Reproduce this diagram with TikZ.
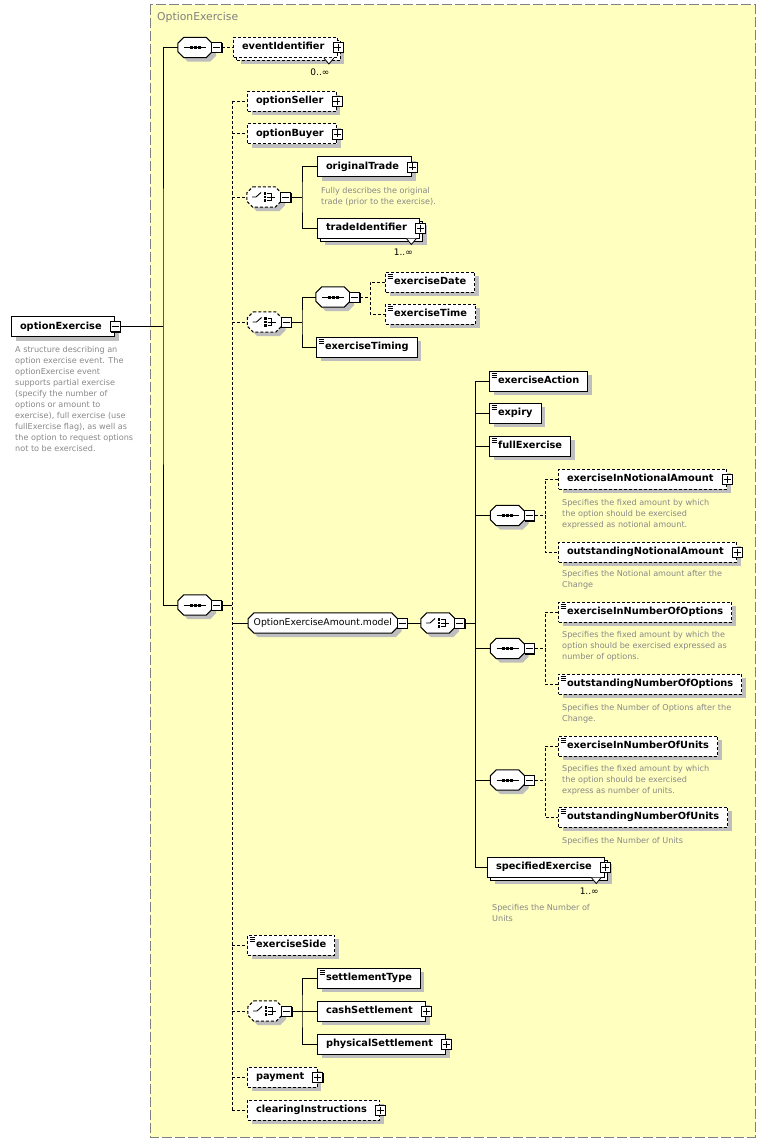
\documentclass[tikz,border=0pt]{standalone}
\usepackage{fontspec}
\setmainfont{DejaVu Sans}
\usetikzlibrary{shadows}

\definecolor{bgyellow}{RGB}{255,255,192}
\definecolor{framegray}{RGB}{128,128,128}
\definecolor{shadowgray}{RGB}{190,190,190}
\definecolor{descgray}{RGB}{136,136,136}

\newcommand\elemfont{\fontsize{9.8pt}{11pt}\selectfont\bfseries}
\newcommand\descfont{\fontsize{8.1pt}{11pt}\selectfont}
\newcommand\modelfont{\fontsize{9.3pt}{11pt}\selectfont}
\newcommand\multfont{\fontsize{9pt}{10pt}\selectfont}
\newcommand\titlefont{\fontsize{10.8pt}{12pt}\selectfont}

% compositor outline, glyphs
\newcommand\compframe[2]{%
  \fill[shadowgray, transform canvas={shift={(4pt,-4pt)}}, octagon=#1];
  \draw[line width=1pt, fill=white, #2, octagon=#1];}
\newcommand\seqglyph[1]{%
  \draw[line width=1pt] ([xshift=-11pt]#1.center) -- ([xshift=11pt]#1.center);
  \foreach \d in {-4,0,4} \fill ([shift={(\d-1.5,-1.5)}]#1.center) rectangle ++(3,3);}
\newcommand\choiceglyph[1]{%
  \begin{scope}[shift={(#1.center)}, line width=.9pt]
    \draw (-12,0) -- (-8,0) -- (-3,-4.5);
    \foreach \d in {-3.5,0,3.5} \fill (-0.5,\d-1.2) rectangle ++(2.6,2.4);
    \draw (3,-3.5) -- (7,-3.5) -- (7,3.5) -- (3,3.5) (3,0) -- (11,0);
  \end{scope}}

\tikzset{
  conn/.style={line width=1pt},
  optline/.style={dash pattern=on 3pt off 2pt},
  octagon/.style={insert path={([xshift=6pt]#1.north west) -- ([xshift=-6pt]#1.north east)
    -- ([yshift=-6pt]#1.north east) -- ([yshift=6pt]#1.south east) -- ([xshift=-6pt]#1.south east)
    -- ([xshift=6pt]#1.south west) -- ([yshift=6pt]#1.south west) -- ([yshift=-6pt]#1.north west) -- cycle}},
  boxshadow/.style={drop shadow={shadow xshift=4pt, shadow yshift=-4pt, fill=shadowgray, opacity=1}},
  elembase/.style={draw, line width=1pt, fill=white, anchor=west, font=\elemfont,
    inner xsep=8.5pt, inner ysep=0pt, minimum height=20pt, text height=7.5pt, text depth=2.5pt},
  elem/.style={elembase, boxshadow},
  elemmulti/.style={elembase,
    drop shadow={shadow xshift=7pt, shadow yshift=-7pt, fill=shadowgray, opacity=1},
    copy shadow={shadow xshift=3pt, shadow yshift=-3pt}},
  withtoggle/.style={execute at end node={\hspace*{4.5pt}}},
  simpletype/.style={path picture={\foreach \k in {2,4,6}
    \draw[solid, black, line width=.7pt] ([shift={(2,\k)}]path picture bounding box.north west) -- ++(5,0);}},
  togglebox/.style={draw, line width=.8pt, fill=white, minimum size=10pt, inner sep=0pt,
    drop shadow={shadow xshift=1pt, shadow yshift=-1pt, fill=black, opacity=1}},
  plusbox/.style={togglebox, path picture={\draw[line width=.8pt]
    ([xshift=-3.5pt]path picture bounding box.center) -- ([xshift=3.5pt]path picture bounding box.center)
    ([yshift=-3.5pt]path picture bounding box.center) -- ([yshift=3.5pt]path picture bounding box.center);}},
  minusbox/.style={togglebox, path picture={\draw[line width=.8pt]
    ([xshift=-3.5pt]path picture bounding box.center) -- ([xshift=3.5pt]path picture bounding box.center);}},
  comp/.style={minimum width=34pt, minimum height=20pt, inner sep=0pt},
  seqbox/.style={comp, append after command={\pgfextra{\compframe{\tikzlastnode}{#1}\seqglyph{\tikzlastnode}}}},
  seqbox/.default=solid,
  choicebox/.style={comp, append after command={\pgfextra{\compframe{\tikzlastnode}{#1}\choiceglyph{\tikzlastnode}}}},
  choicebox/.default=solid,
  modelgrp/.style={anchor=west, font=\modelfont, inner xsep=5.5pt, inner ysep=0pt, minimum height=20pt,
    text height=7pt, text depth=2.5pt, append after command={\pgfextra{\compframe{\tikzlastnode}{solid}}}},
  desc/.style={anchor=north west, inner sep=0pt, align=left, font=\descfont, text=descgray},
  mult/.style={inner sep=0pt, font=\multfont},
  notch/.style={line width=.8pt, fill=white},
  frame/.style={draw=framegray, line width=1pt, dash pattern=on 10pt off 3pt, fill=bgyellow},
}

\begin{document}
\begin{tikzpicture}[x=1pt, y=-1pt]
\useasboundingbox (0,0) rectangle (765,1142);
\draw[frame] (150,5) rectangle (755,1137);
\node[anchor=west, inner sep=0pt, font=\titlefont, text=framegray] (title) at (157,18) {OptionExercise};

% root element
\node[elem, withtoggle] (root) at (11,326.5) {optionExercise};
\node[minusbox] (rootm) at (root.east) {};
\node[desc] (rootdesc) at (15,346) {A structure describing an\\option exercise event. The\\optionExercise event\\supports partial exercise\\(specify the number of\\options or amount to\\exercise), full exercise (use\\fullExercise flag), as well as\\the option to request options\\not to be exercised.};

% outer sequences
\node[seqbox] (seq1) at (195,47.5) {};
\node[minusbox, anchor=west] (seq1m) at ([xshift=-1pt]seq1.east) {};
\node[seqbox] (seq2) at (195,605) {};
\node[minusbox, anchor=west] (seq2m) at ([xshift=-1pt]seq2.east) {};

\node[elemmulti, optline, withtoggle] (evid) at (233,47.5) {eventIdentifier};
\node[plusbox] (evidp) at (evid.east) {};
\draw[notch] ([xshift=-14pt]evid.south east) -- ++(5,6) -- ++(5,-6);
\node[mult] (evidmult) at ([shift={(-18,14)}]evid.south east) {0..∞};

\node[elem, optline, withtoggle] (seller) at (247,101.5) {optionSeller};
\node[plusbox] (sellerp) at (seller.east) {};
\node[elem, optline, withtoggle] (buyer) at (247,134) {optionBuyer};
\node[plusbox] (buyerp) at (buyer.east) {};

% choice: trade
\node[choicebox=optline] (ch1) at (264,197) {};
\node[minusbox, anchor=west] (ch1m) at ([xshift=-1pt]ch1.east) {};
\node[elem, withtoggle] (origtrade) at (317,167) {originalTrade};
\node[plusbox] (origtradep) at (origtrade.east) {};
\node[desc] (origdesc) at (321,187) {Fully describes the original\\trade (prior to the exercise).};
\node[elemmulti, withtoggle] (tradeid) at (317,228) {tradeIdentifier};
\node[plusbox] (tradeidp) at (tradeid.east) {};
\draw[notch] ([xshift=-14pt]tradeid.south east) -- ++(5,6) -- ++(5,-6);
\node[mult] (tradeidmult) at ([shift={(-17,14)}]tradeid.south east) {1..∞};

% choice: date and timing
\node[choicebox=optline] (ch2) at (264.5,322) {};
\node[minusbox, anchor=west] (ch2m) at ([xshift=-1pt]ch2.east) {};
\node[seqbox] (seq3) at (333,297) {};
\node[minusbox, anchor=west] (seq3m) at ([xshift=-1pt]seq3.east) {};
\node[elem, optline, simpletype] (exdate) at (385,282) {exerciseDate};
\node[elem, optline, simpletype] (extime) at (385,314) {exerciseTime};
\node[elem, simpletype] (extiming) at (316,347) {exerciseTiming};

% amount model
\node[modelgrp] (model) at (248,623) {OptionExerciseAmount.model};
\node[minusbox, anchor=west] (modelm) at ([xshift=-1pt]model.east) {};
\node[choicebox] (ch3) at (438,623) {};
\node[minusbox, anchor=west] (ch3m) at ([xshift=-1pt]ch3.east) {};
\node[elem, simpletype] (exaction) at (489,381) {exerciseAction};
\node[elem, simpletype] (expiry) at (489,413) {expiry};
\node[elem, simpletype] (fullex) at (489,446) {fullExercise};

\node[seqbox] (seq4) at (507.5,515.5) {};
\node[minusbox, anchor=west] (seq4m) at ([xshift=-1pt]seq4.east) {};
\node[elem, optline, withtoggle] (exnot) at (558,479) {exerciseInNotionalAmount};
\node[plusbox] (exnotp) at (exnot.east) {};
\node[desc] (exnotdesc) at (562,499) {Specifies the fixed amount by which\\the option should be exercised\\expressed as notional amount.};
\node[elem, optline, withtoggle] (outnot) at (558,552) {outstandingNotionalAmount};
\node[plusbox] (outnotp) at (outnot.east) {};
\node[desc] (outnotdesc) at (562,570) {Specifies the Notional amount after the\\Change};

\node[seqbox] (seq5) at (507.5,648.5) {};
\node[minusbox, anchor=west] (seq5m) at ([xshift=-1pt]seq5.east) {};
\node[elem, optline, simpletype] (exopt) at (558,612) {exerciseInNumberOfOptions};
\node[desc] (exoptdesc) at (562,631) {Specifies the fixed amount by which the\\option should be exercised expressed as\\number of options.};
\node[elem, optline, simpletype] (outopt) at (558,684) {outstandingNumberOfOptions};
\node[desc] (outoptdesc) at (562,704) {Specifies the Number of Options after the\\Change.};

\node[seqbox] (seq6) at (507.5,780) {};
\node[minusbox, anchor=west] (seq6m) at ([xshift=-1pt]seq6.east) {};
\node[elem, optline, simpletype] (exunit) at (558,746) {exerciseInNumberOfUnits};
\node[desc] (exunitdesc) at (562,765) {Specifies the fixed amount by which\\the option should be exercised\\express as number of units.};
\node[elem, optline, simpletype] (outunit) at (558,817) {outstandingNumberOfUnits};
\node[desc] (outunitdesc) at (562,837) {Specifies the Number of Units};

\node[elemmulti, withtoggle] (specex) at (487,867) {specifiedExercise};
\node[plusbox] (specexp) at (specex.east) {};
\draw[notch] ([xshift=-14pt]specex.south east) -- ++(5,6) -- ++(5,-6);
\node[mult] (specexmult) at ([shift={(-16,14)}]specex.south east) {1..∞};
\node[desc] (specexdesc) at (492,904) {Specifies the Number of\\Units};

% side and settlement
\node[elem, optline, simpletype] (exside) at (247,945) {exerciseSide};
\node[choicebox=optline] (ch4) at (265,1011) {};
\node[minusbox, anchor=west] (ch4m) at ([xshift=-1pt]ch4.east) {};
\node[elem, simpletype] (settype) at (317,978) {settlementType};
\node[elem, withtoggle] (cashset) at (317,1011) {cashSettlement};
\node[plusbox] (cashsetp) at (cashset.east) {};
\node[elem, withtoggle] (physset) at (317,1044) {physicalSettlement};
\node[plusbox] (physsetp) at (physset.east) {};
\node[elem, optline, withtoggle] (payment) at (247,1077) {payment};
\node[plusbox] (paymentp) at (payment.east) {};
\node[elem, optline, withtoggle] (clearing) at (247,1110) {clearingInstructions};
\node[plusbox] (clearingp) at (clearing.east) {};

% connectors
\coordinate (b0) at (163,326.5);
\draw[conn] (rootm.east) -- (b0);
\draw[conn] (seq1.west) -| (b0) |- (seq2.west);
\draw[conn, optline] (seq1m.east) -- (evid.west);

\coordinate (b1) at (232,605);
\draw[conn] (seq2m.east) -- (b1);
\draw[conn, optline] (b1 |- seller.west) -- (b1 |- clearing.west);
\foreach \n in {seller, buyer, ch1, ch2, exside, ch4, payment, clearing}
  \draw[conn, optline] (b1 |- \n.west) -- (\n.west);
\draw[conn] (b1 |- model.west) -- (model.west);

\coordinate (b2) at (302,197);
\draw[conn] (ch1m.east) -- (b2);
\draw[conn] (origtrade.west) -| (b2) |- (tradeid.west);

\coordinate (b3) at (302,322);
\draw[conn] (ch2m.east) -- (b3);
\draw[conn] (seq3.west) -| (b3) |- (extiming.west);

\coordinate (b4) at (370,297);
\draw[conn, optline] (seq3m.east) -- (b4);
\draw[conn, optline] (exdate.west) -| (b4) |- (extime.west);

\draw[conn] (modelm.east) -- (ch3.west);
\coordinate (b5) at (475,623);
\draw[conn] (ch3m.east) -- (b5);
\draw[conn] (b5 |- exaction.west) -- (b5 |- specex.west);
\foreach \n in {exaction, expiry, fullex, seq4, seq5, seq6, specex}
  \draw[conn] (b5 |- \n.west) -- (\n.west);

\coordinate (b6) at (545,515.5);
\draw[conn, optline] (seq4m.east) -- (b6);
\draw[conn, optline] (exnot.west) -| (b6) |- (outnot.west);
\coordinate (b7) at (545,648.5);
\draw[conn, optline] (seq5m.east) -- (b7);
\draw[conn, optline] (exopt.west) -| (b7) |- (outopt.west);
\coordinate (b8) at (545,780);
\draw[conn, optline] (seq6m.east) -- (b8);
\draw[conn, optline] (exunit.west) -| (b8) |- (outunit.west);

\coordinate (b9) at (302,1011);
\draw[conn] (ch4m.east) -- (b9);
\draw[conn] (settype.west) -| (b9) |- (physset.west);
\draw[conn] (b9) -- (cashset.west);
\end{tikzpicture}
\end{document}
